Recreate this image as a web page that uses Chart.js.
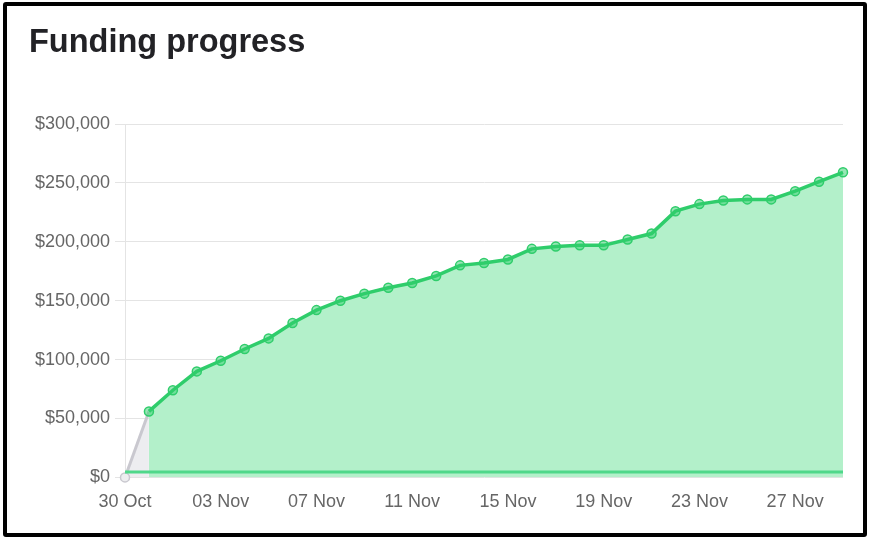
<!DOCTYPE html>
<html>
<head>
<meta charset="utf-8">
<script src="https://cdn.jsdelivr.net/npm/chart.js@4.4.0/dist/chart.umd.min.js"></script>
<style>
  html, body { margin: 0; padding: 0; background: #fff; }
  body { width: 872px; height: 540px; position: relative; overflow: hidden; }
  #frame {
    position: absolute; left: 3px; top: 2px; width: 864px; height: 535px;
    box-sizing: border-box; border: 4px solid #000; border-radius: 3px; z-index: 2;
  }
  #title {
    position: absolute; left: 29px; top: 25px; z-index: 3;
    font-family: "Liberation Sans", Arial, sans-serif; font-size: 32.5px; font-weight: bold;
    line-height: 32px; color: #222226;
  }
  #wrap { position: absolute; left: 0; top: 0; width: 872px; height: 540px; z-index: 1; }
</style>
</head>
<body>
<div id="wrap"><canvas id="fundingChart"></canvas></div>
<div id="title">Funding progress</div>
<div id="frame"></div>
<script>
// one label per day, 30 Oct to 29 Nov
const days = ['30 Oct', '31 Oct',
  '01 Nov', '02 Nov', '03 Nov', '04 Nov', '05 Nov', '06 Nov', '07 Nov', '08 Nov', '09 Nov', '10 Nov',
  '11 Nov', '12 Nov', '13 Nov', '14 Nov', '15 Nov', '16 Nov', '17 Nov', '18 Nov', '19 Nov', '20 Nov',
  '21 Nov', '22 Nov', '23 Nov', '24 Nov', '25 Nov', '26 Nov', '27 Nov', '28 Nov', '29 Nov'];

// launch segment (grey)
const launch = [0, 56000];

// total raised (green), starting 31 Oct
const raised = [56000, 74000, 90000, 99000, 109000, 118000, 131000, 142000, 150000, 156000,
  161000, 165000, 171000, 180000, 182000, 185000, 194000, 196000, 197000, 197000,
  202000, 207000, 226000, 232000, 235000, 236000, 236000, 243000, 251000, 259000];

const goal = 4500;

const yTicks = [0, 50000, 100000, 150000, 200000, 250000, 300000];

function createFundingChart() {
    const ctx = document.getElementById('fundingChart');
    if (!ctx) return;
    const launchData = days.map((d, i) => i < launch.length ? launch[i] : null);
    const raisedData = days.map((d, i) => i === 0 ? null : raised[i - 1]);
    const goalData = days.map(() => goal);

    new Chart(ctx, {
        type: 'line',
        data: {
            labels: days,
            datasets: [{
                label: 'Goal',
                data: goalData,
                borderColor: '#4fd88a',
                borderWidth: 3,
                pointRadius: 0,
                fill: false,
                order: 0
            }, {
                label: 'Raised',
                data: raisedData,
                borderColor: '#2fcd6b',
                backgroundColor: '#b3f0ca',
                borderWidth: 3.5,
                pointRadius: 4.5,
                pointBorderWidth: 1.5,
                pointBackgroundColor: 'rgba(47,205,107,0.5)',
                pointBorderColor: '#2fcd6b',
                fill: 'origin',
                tension: 0,
                clip: false,
                order: 1
            }, {
                label: 'Launch',
                data: launchData,
                borderColor: '#c9c8cf',
                backgroundColor: 'rgba(215,214,222,0.45)',
                borderWidth: 3,
                pointRadius: [4.5, 0],
                pointBorderWidth: 1.5,
                pointBackgroundColor: '#eeeef0',
                pointBorderColor: '#c9c8cf',
                fill: 'origin',
                tension: 0,
                clip: false,
                order: 2
            }]
        },
        options: {
            responsive: true,
            maintainAspectRatio: false,
            animation: false,
            layout: {
                padding: { left: 30, right: 29, top: 124, bottom: 13 }
            },
            plugins: {
                legend: { display: false },
                tooltip: { enabled: false }
            },
            scales: {
                x: {
                    grid: { display: false, drawTicks: false },
                    border: { display: false },
                    ticks: {
                        autoSkip: false,
                        maxRotation: 0,
                        padding: 14,
                        color: '#666',
                        font: { family: '"Liberation Sans", Arial, sans-serif', size: 18 },
                        callback: function (value, index) {
                            return index % 4 === 0 ? days[index] : null;
                        }
                    }
                },
                y: {
                    min: 0,
                    max: 300000,
                    afterFit: function (scale) { scale.width = 95; },
                    afterBuildTicks: function (scale) {
                        scale.ticks = yTicks.map(v => ({ value: v }));
                    },
                    grid: { color: '#e4e4e4', lineWidth: 1, tickLength: 10 },
                    border: { color: '#e4e4e4' },
                    ticks: {
                        padding: 5,
                        color: '#666',
                        font: { family: '"Liberation Sans", Arial, sans-serif', size: 18 },
                        callback: function (value) {
                            return '$' + value.toLocaleString('en-US');
                        }
                    }
                }
            }
        }
    });
}

document.addEventListener('DOMContentLoaded', () => {
    createFundingChart();
});
</script>
</body>
</html>
